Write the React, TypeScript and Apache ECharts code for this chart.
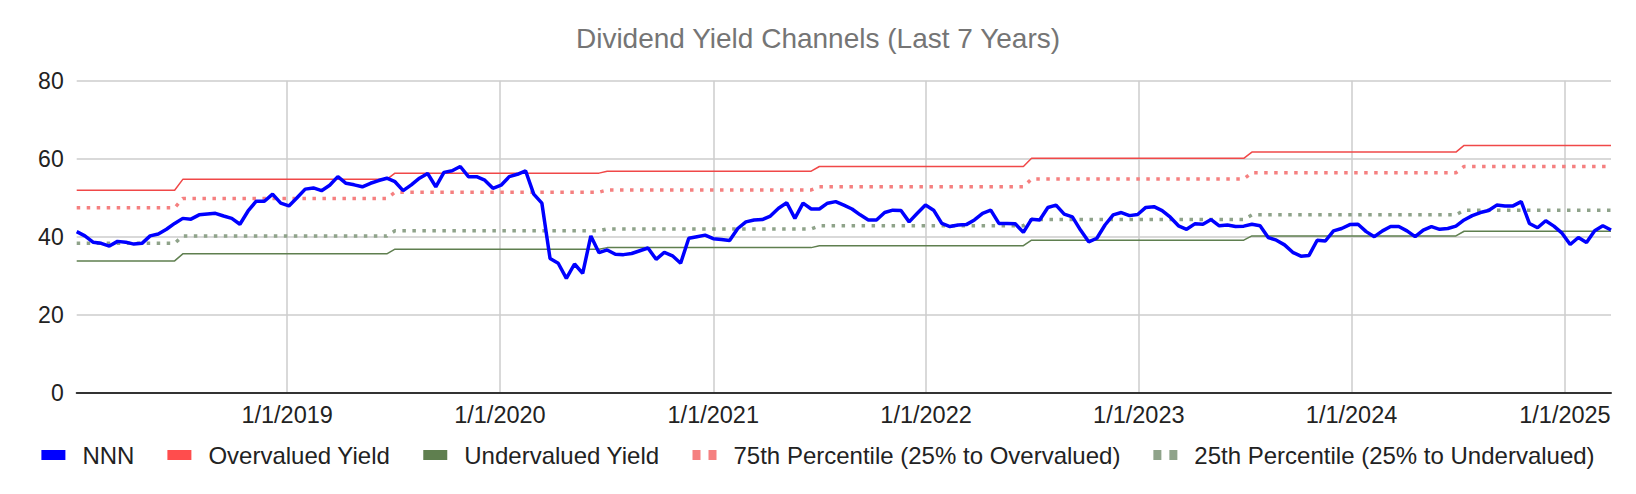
import React, { useEffect, useRef } from "react";
import * as echarts from "echarts";

const FONT = '"Liberation Sans", Arial, sans-serif';
const DAY = 86400000;

// biweekly closes, first one on 2018-01-05
const START = Date.UTC(2018, 0, 5);
const END = Date.UTC(2025, 2, 21);

const nnnYield = [
    41.3, 40.2, 38.6, 38.3, 37.6, 38.8, 38.6, 38.1, 38.3, 40.2,
    40.7, 41.9, 43.4, 44.7, 44.5, 45.6, 45.8, 46.0, 45.3, 44.7,
    43.2, 46.6, 49.1, 49.1, 50.9, 48.6, 47.9, 50.0, 52.2, 52.5,
    51.8, 53.2, 55.4, 53.7, 53.3, 52.8, 53.7, 54.4, 55.0, 54.1,
    51.8, 53.3, 55.0, 56.2, 52.8, 56.5, 56.9, 58.0, 55.4, 55.4,
    54.5, 52.4, 53.2, 55.4, 56.0, 56.9, 50.9, 48.6, 34.4, 33.2,
    29.3, 33.0, 30.6, 40.2, 35.9, 36.6, 35.5, 35.4, 35.7, 36.4,
    37.1, 34.2, 36.0, 35.1, 33.2, 39.6, 40.0, 40.4, 39.5, 39.3,
    39.0, 42.1, 43.8, 44.3, 44.4, 45.3, 47.3, 48.7, 44.7, 48.6,
    47.1, 47.1, 48.6, 49.0, 48.1, 47.1, 45.6, 44.3, 44.3, 46.2,
    46.8, 46.7, 43.8, 46.0, 48.1, 46.8, 43.4, 42.6, 43.0, 43.1,
    44.3, 46.0, 46.8, 43.4, 43.4, 43.3, 41.1, 44.5, 44.3, 47.5,
    48.1, 45.8, 45.1, 41.7, 38.7, 39.6, 43.0, 45.6, 46.2, 45.4,
    45.7, 47.5, 47.7, 46.7, 45.0, 42.8, 41.9, 43.3, 43.2, 44.4,
    42.8, 43.0, 42.6, 42.7, 43.2, 42.8, 39.8, 39.1, 37.9, 36.0,
    35.0, 35.2, 39.1, 38.9, 41.5, 42.1, 43.1, 43.2, 41.3, 40.0,
    41.5, 42.6, 42.6, 41.5, 40.0, 41.7, 42.6, 41.9, 42.1, 42.7,
    44.3, 45.4, 46.2, 46.7, 48.1, 47.9, 47.9, 49.0, 43.4, 42.3,
    44.1, 42.7, 40.9, 38.0, 39.8, 38.5, 41.5, 42.8, 41.7,
];

// channel levels reset every July
const stepStarts = [
    Date.UTC(2018, 6, 1), Date.UTC(2019, 6, 1), Date.UTC(2020, 6, 1), Date.UTC(2021, 6, 1),
    Date.UTC(2022, 6, 1), Date.UTC(2023, 6, 1), Date.UTC(2024, 6, 1),
];
const overvaluedLevels = [51.9, 54.7, 56.3, 56.8, 58.0, 60.1, 61.7, 63.4];
const p75Levels = [47.4, 49.8, 51.4, 52.0, 52.8, 54.8, 56.4, 58.0];
const p25Levels = [38.3, 40.2, 41.5, 42.0, 42.8, 44.4, 45.6, 46.8];
const undervaluedLevels = [33.8, 35.6, 36.8, 37.2, 37.7, 39.1, 40.2, 41.4];

const yearTicks = [2019, 2020, 2021, 2022, 2023, 2024, 2025].map((y) => Date.UTC(y, 0, 1));

const dates = nnnYield.map((_, i) => START + i * 14 * DAY);

const levelAt = (levels: number[], t: number) => {
    let k = 0;
    stepStarts.forEach((s) => {
        if (t >= s) k++;
    });
    return levels[k];
};

const channel = (levels: number[]) => dates.map((t) => [t, levelAt(levels, t)]);

const dotIcon = "path://M0,0h8v10h-8z M16,0h8v10h-8z";

const App = () => {
    const chartRef = useRef<HTMLDivElement>(null);

    useEffect(() => {
        document.body.style.margin = "0";
        const chart = echarts.init(chartRef.current, null, { renderer: "svg" });

        const option = {
            animation: false,
            backgroundColor: "#fff",
            title: {
                text: "Dividend Yield Channels (Last 7 Years)",
                left: "center",
                top: 24,
                padding: 0,
                textStyle: { color: "#757575", fontSize: 28, fontWeight: "normal", fontFamily: FONT },
            },
            legend: {
                left: "center",
                top: 443,
                padding: 0,
                itemWidth: 24,
                itemHeight: 10,
                itemGap: 33,
                textStyle: { color: "#222", fontSize: 24, fontFamily: FONT, padding: [0, 0, 0, 12] },
                data: [
                    { name: "NNN", icon: "rect" },
                    { name: "Overvalued Yield", icon: "rect" },
                    { name: "Undervalued Yield", icon: "rect" },
                    { name: "75th Percentile (25% to Overvalued)", icon: dotIcon },
                    { name: "25th Percentile (25% to Undervalued)", icon: dotIcon },
                ],
            },
            grid: { left: 76.7, right: 25, top: 80.7, bottom: 101.3 },
            xAxis: {
                type: "value",
                min: START,
                max: END,
                axisLine: { lineStyle: { color: "#333", width: 2 } },
                axisTick: { show: false, customValues: yearTicks },
                axisLabel: {
                    customValues: yearTicks,
                    color: "#222",
                    fontSize: 23.5,
                    fontFamily: FONT,
                    margin: 10,
                    formatter: (v: number) => {
                        const d = new Date(v);
                        return `${d.getUTCMonth() + 1}/${d.getUTCDate()}/${d.getUTCFullYear()}`;
                    },
                },
                splitLine: { show: true, lineStyle: { color: "#ccc", width: 1.5 } },
            },
            yAxis: {
                type: "value",
                min: 0,
                max: 80,
                interval: 20,
                axisLine: { show: false },
                axisTick: { show: false },
                axisLabel: { color: "#222", fontSize: 23, fontFamily: FONT, margin: 13 },
                splitLine: { lineStyle: { color: "#ccc", width: 1.5 } },
            },
            series: [
                {
                    name: "NNN",
                    type: "line",
                    z: 5,
                    symbol: "none",
                    color: "#0000ff",
                    lineStyle: { width: 3.5, color: "#0000ff" },
                    data: dates.map((t, i) => [t, nnnYield[i]]),
                },
                {
                    name: "Overvalued Yield",
                    type: "line",
                    symbol: "none",
                    color: "#ff4d4d",
                    lineStyle: { width: 1.5, color: "#f04848" },
                    data: channel(overvaluedLevels),
                },
                {
                    name: "Undervalued Yield",
                    type: "line",
                    symbol: "none",
                    color: "#5f7f4f",
                    lineStyle: { width: 1.5, color: "#5f7f4f" },
                    data: channel(undervaluedLevels),
                },
                {
                    name: "75th Percentile (25% to Overvalued)",
                    type: "line",
                    symbol: "none",
                    color: "#f58080",
                    lineStyle: { width: 3.5, color: "#f58080", type: [3.5, 6.5], cap: "butt" },
                    data: channel(p75Levels),
                },
                {
                    name: "25th Percentile (25% to Undervalued)",
                    type: "line",
                    symbol: "none",
                    color: "#8fa38a",
                    lineStyle: { width: 3.5, color: "#8fa38a", type: [3.5, 6.5], cap: "butt" },
                    data: channel(p25Levels),
                },
            ],
        };

        chart.setOption(option);

        return () => {
            chart.dispose();
        };
    }, []);

    return <div ref={chartRef} style={{ width: 1636, height: 494 }} />;
};

export default App;
